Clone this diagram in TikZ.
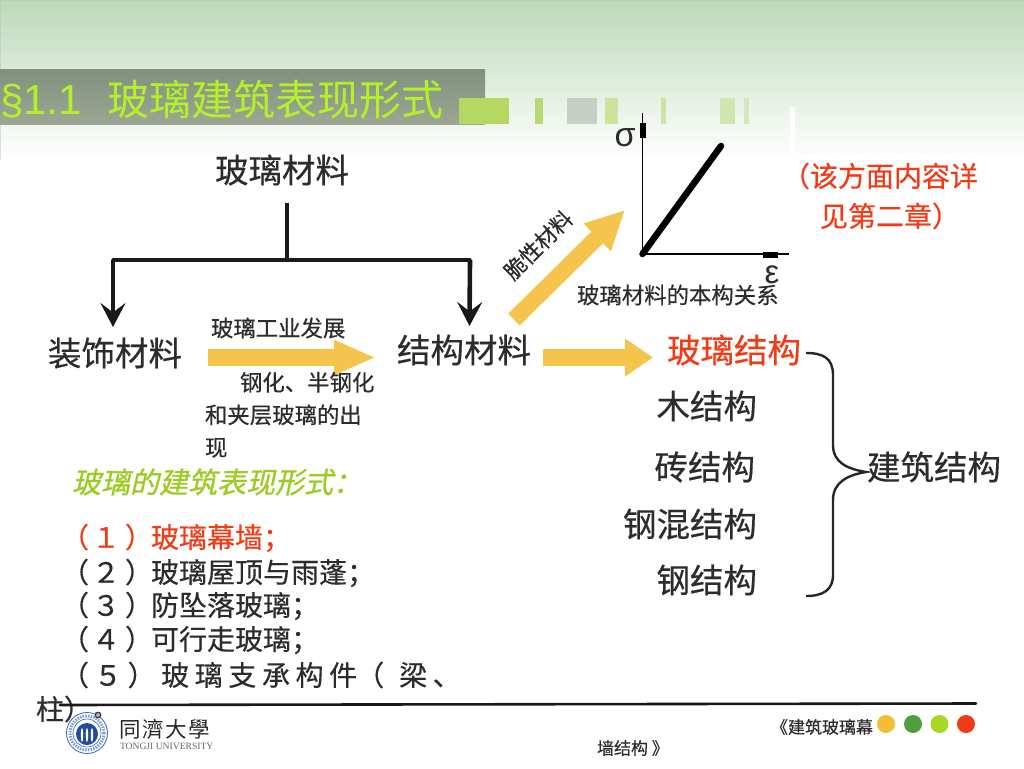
\documentclass[tikz,border=0pt]{standalone}
\usepackage{fontspec}
\usetikzlibrary{arrows.meta}
\setmainfont{Noto Sans CJK SC}
\newfontfamily\cjk[FakeBold=0.4]{Noto Sans CJK SC}
\newfontfamily\cjkspaced[FakeBold=0.4,LetterSpace=20]{Noto Sans CJK SC}
\newfontfamily\cjklogo[LetterSpace=8]{Noto Sans CJK TC}
\newfontfamily\cjkslant[FakeSlant=0.22,FakeBold=0.8]{Noto Sans CJK SC}
\newfontfamily\arial{Liberation Sans}
\newfontfamily\timesf{Liberation Serif}
\definecolor{ink}{HTML}{2C2C2C}
\definecolor{redt}{HTML}{F23A17}
\definecolor{titlec}{HTML}{B4F028}
\definecolor{slantc}{HTML}{9CCB22}
\definecolor{amber}{HTML}{F4C44C}
\definecolor{sealblue}{HTML}{3F72BE}
\definecolor{sealdark}{HTML}{234BA0}
\newcommand{\fs}[1]{\fontsize{#1}{#1}\selectfont}
\newcommand{\pnum}[1]{（\hspace{3pt}#1\hspace{5pt}）\hspace{-2pt}}
\tikzset{
  x=1pt,y=-1pt,
  lbl/.style={inner sep=0pt,outer sep=0pt,text=ink,font=\cjk},
  big/.style={lbl,font=\cjk\fs{33.5}},
  mid/.style={lbl,font=\cjk\fs{28}},
  small/.style={lbl,font=\cjk\fs{22.4}},
  foot/.style={lbl,font=\cjk\fs{17}},
  blockarrow/.style={amber,line width=16.5pt},
  axisline/.style={black,line width=1.3pt},
  axistip/.style={black,line width=6pt},
  treeline/.style={black!90,line width=3.2pt},
  downarrow/.style={black!90,line width=4.6pt,-{Stealth[length=24pt,width=25pt,inset=9.5pt]}},
  dot/.style={circle,inner sep=0pt,minimum size=18pt},
}
\begin{document}
\begin{tikzpicture}
\useasboundingbox (0,0) rectangle (1024,768);
\fill[white] (0,0) rectangle (1024,768);
% header background
\shade[top color={rgb,255:red,188;green,217;blue,184},bottom color=white] (0,0) rectangle (1024,160);
\fill[black!25,opacity=.5] (0,0) rectangle (1024,1.5);
\fill[black!25,opacity=.5] (0,0) rectangle (1,160);
\shade[top color={rgb,255:red,128;green,145;blue,125},bottom color={rgb,255:red,157;green,166;blue,148}] (0,69) rectangle (485,124);
\fill[white] (790,107) rectangle (795,160);
% header tiles
\fill[fill={rgb,255:red,181;green,216;blue,98}] (459,98) rectangle (509,124);
\fill[fill={rgb,255:red,183;green,218;blue,115}] (535,98) rectangle (543,124);
\fill[fill={rgb,255:red,197;green,207;blue,197}] (567,98) rectangle (597,124);
\fill[fill={rgb,255:red,205;green,227;blue,155}] (605,98) rectangle (618,124);
\fill[fill={rgb,255:red,205;green,227;blue,165}] (661,98) rectangle (666,124);
\fill[fill={rgb,255:red,208;green,230;blue,175}] (720,98) rectangle (735,124);
\fill[fill={rgb,255:red,213;green,232;blue,185}] (744,98) rectangle (749,124);
% title
\node[lbl,anchor=west,text=titlec,font=\arial\fs{42}] (sect) at (0,101) {§1.1};
\node[lbl,anchor=west,text=titlec,font=\fs{42}] (title) at (107,100) {玻璃建筑表现形式};
% tree
\node[big,anchor=center] (glass) at (282,170) {玻璃材料};
\node[big,anchor=center] (deco) at (115,353) {装饰材料};
\node[big,anchor=center] (struct) at (464,350) {结构材料};
\coordinate (fork) at (287,260);
\coordinate (forkL) at (113,260);
\coordinate (forkR) at (470,260);
\coordinate (decoTop) at (113,327);
\coordinate (structTop) at (469.5,326);
\draw[treeline,line width=4.4pt] (287,203) -- (fork);
\draw[treeline,line cap=round] (forkL) -- (forkR);
\draw[downarrow] (forkL) -- (decoTop);
\draw[downarrow] (forkR) -- (structTop);
% block arrows
\coordinate (a1s) at (208,357.5);
\coordinate (a1e) at (376,357.5);
\coordinate (a2s) at (543,357.5);
\coordinate (a2e) at (653,357.5);
\coordinate (a3s) at (514,319.5);
\coordinate (a3e) at (625,210);
\draw[blockarrow,-{Triangle[length=42pt,width=32pt]}] (a1s) -- (a1e);
\draw[blockarrow,-{Triangle[length=28pt,width=36pt]}] (a2s) -- (a2e);
\draw[blockarrow,-{Triangle[length=39pt,width=36pt]}] (a3s) -- (a3e);
\node[small,anchor=west] (dev) at (211,328) {玻璃工业发展};
\node[small,anchor=north west,align=left,font=\cjk\fontsize{22.4}{32.5}\selectfont] (emerge) at (205,372)
  {\hspace*{35pt}钢化、半钢化\\和夹层玻璃的出\\现};
\node[small,rotate=45,font=\cjk\fs{21.5}] (brittle) at (538,245) {脆性材料};
% stress-strain plot
\coordinate (O) at (642.5,254);
\coordinate (Y) at (642.5,113);
\coordinate (X) at (789,254);
\coordinate (Yt1) at (642.5,138);
\coordinate (Yt2) at (642.5,123);
\coordinate (Xt1) at (763,254.5);
\coordinate (Xt2) at (778,254.5);
\coordinate (C) at (721,146);
\draw[axisline] (O) -- (Y);
\draw[axisline] (O) -- (X);
\draw[axistip] (Yt1) -- (Yt2);
\draw[axistip] (Xt1) -- (Xt2);
\draw[black,line width=6.5pt,line cap=round] (O) -- (C);
\node[lbl,font=\arial\fs{34}] (sigma) at (625,138) {σ};
\node[lbl,font=\arial\fs{33}] (eps) at (772,275) {ε};
\node[small,anchor=west] (rel) at (577,295) {玻璃材料的本构关系};
% note
\node[mid,text=redt,anchor=west] (note1) at (782,176) {（该方面内容详};
\node[mid,text=redt,anchor=west] (note2) at (820,216) {见第二章）};
% structure types
\node[big,text=redt,anchor=east] (s1) at (801,350) {玻璃结构};
\node[big,anchor=east] (s2) at (757,406) {木结构};
\node[big,anchor=east] (s3) at (755,467) {砖结构};
\node[big,anchor=east] (s4) at (757,524) {钢混结构};
\node[big,anchor=east] (s5) at (757,580) {钢结构};
\node[big,anchor=west] (arch) at (867,467) {建筑结构};
\draw[black!85,line width=2.4pt] (806,353)
  .. controls (823,353) and (833,358) .. (833,375)
  -- (833,445)
  .. controls (833,463) and (848,469) .. (866,472)
  .. controls (848,475) and (833,482) .. (833,500)
  -- (833,575)
  .. controls (833,590) and (823,596) .. (806,596);
% list
\node[lbl,anchor=west,text=slantc,font=\cjkslant\fs{29}] (listhead) at (72,482) {玻璃的建筑表现形式：};
\node[mid,text=redt,anchor=west] (l1) at (61,538) {\pnum{１}玻璃幕墙；};
\node[mid,anchor=west] (l2) at (61,573) {\pnum{２}玻璃屋顶与雨蓬；};
\node[mid,anchor=west] (l3) at (61,606) {\pnum{３}防坠落玻璃；};
\node[mid,anchor=west] (l4) at (61,640) {\pnum{４}可行走玻璃；};
\node[lbl,anchor=west,font=\cjkspaced\fs{28}] (l5) at (61,675) {（\hspace{5pt}５）玻璃支承构件\hspace{-1pt}（\hspace{15pt}梁、};
\node[mid,anchor=west] (l5b) at (36,709) {柱）};
% footer
\coordinate (ruleL) at (60,705);
\coordinate (ruleR) at (976,703.5);
\draw[black!90,line width=2.6pt,line cap=round] (ruleL) -- (ruleR);
% seal
\draw[sealblue,line width=.9pt] (87,733) circle (20.5);
\draw[sealblue!70,line width=3pt,dash pattern=on 1.5pt off 1.2pt] (87,733) circle (17);
\draw[sealblue,line width=.7pt] (87,733) circle (14);
\fill[sealdark] (87,734) circle (11);
\foreach \dx in {-5,0,5}{\fill[white] (87+\dx,735) ellipse (1.1 and 7);}
\draw[black!75,fill=black!25,line width=1.4pt] (98,715) circle (2.7);
\node[lbl,font=\cjklogo\fs{21.5},anchor=west,text=black!85] (uni) at (119,729) {同濟大學};
\node[lbl,font=\timesf\fs{9.6},text=black!60,anchor=west] (unien) at (120,746) {TONGJI UNIVERSITY};
\node[foot,anchor=west] (f1) at (771,727) {《建筑玻璃幕};
\node[foot,anchor=west] (f2) at (597,748) {墙结构 》};
\node[dot,fill={rgb,255:red,245;green,190;blue,50}] (d1) at (886,724) {};
\node[dot,fill={rgb,255:red,78;green,158;blue,64}] (d2) at (913,724) {};
\node[dot,fill={rgb,255:red,170;green,215;blue,35}] (d3) at (939.5,724) {};
\node[dot,fill={rgb,255:red,242;green,58;blue,23}] (d4) at (966,724) {};
\end{tikzpicture}
\end{document}
